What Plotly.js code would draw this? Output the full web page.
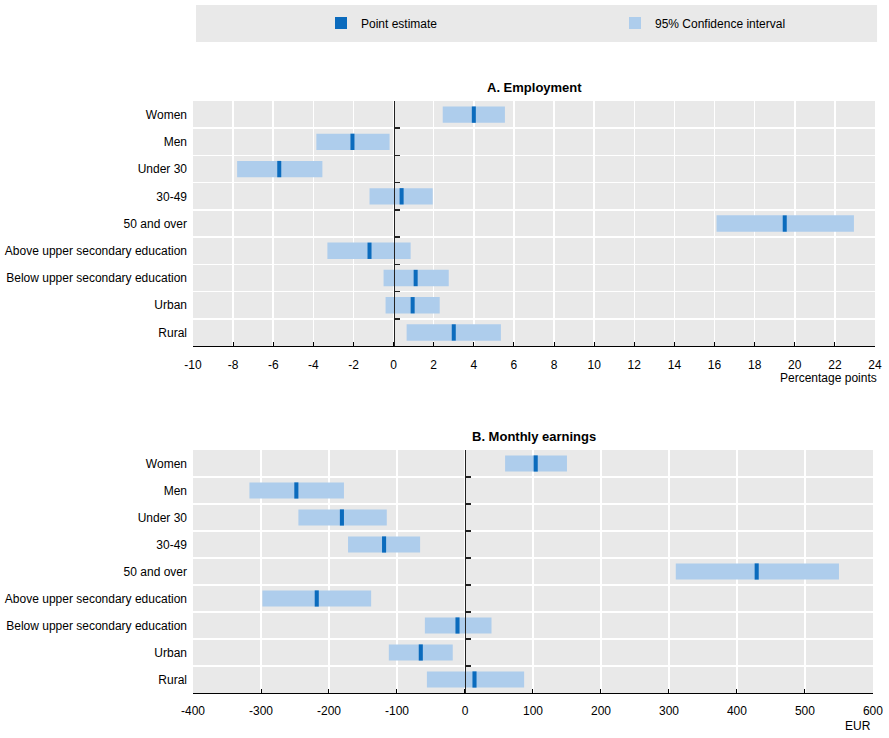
<!DOCTYPE html>
<html>
<head>
<meta charset="utf-8">
<script src="https://cdn.plot.ly/plotly-3.0.1.min.js"></script>
<style>html,body{margin:0;padding:0;background:#fff;}#chart{width:889px;height:738px;}</style>
</head>
<body>
<div id="chart"></div>
<script>
// ---- data ----
const categories = ["Women", "Men", "Under 30", "30-49", "50 and over",
  "Above upper secondary education", "Below upper secondary education", "Urban", "Rural"];

// Panel A: Employment (percentage points)
const empPoint = [4.0, -2.05, -5.7, 0.4, 19.5, -1.2, 1.1, 0.95, 3.0];
const empLow   = [2.45, -3.85, -7.8, -1.2, 16.1, -3.3, -0.5, -0.4, 0.65];
const empHigh  = [5.55, -0.2, -3.55, 1.95, 22.95, 0.85, 2.75, 2.3, 5.35];

// Panel B: Monthly earnings (EUR)
const earnPoint = [104, -248, -181, -119, 429, -218, -11, -65, 14];
const earnLow   = [59, -317, -245, -172, 310, -298, -59, -112, -56];
const earnHigh  = [150, -178, -115, -66, 550, -138, 39, -18, 87];

const empTicks = [-10,-8,-6,-4,-2,0,2,4,6,8,10,12,14,16,18,20,22,24];
const earnTicks = [-400,-300,-200,-100,0,100,200,300,400,500,600];

// ---- style ----
const FONT = "'Liberation Sans', Arial, sans-serif";
const ciColor = "#aecdec";
const ptColor = "#0b6bbd";
const empRange = [-10, 24];
const earnRange = [-400, 600];
const empHalf = 0.1;   // half-thickness of point marker in data units
const earnHalf = 3;

function ciTrace(low, high, xa, ya, show) {
  return {
    type: 'bar', orientation: 'h', y: categories,
    base: low, x: high.map((h, i) => h - low[i]),
    marker: {color: ciColor}, width: 0.6,
    name: '95% Confidence interval', legend: 'legend2', showlegend: show,
    xaxis: xa, yaxis: ya, hoverinfo: 'skip'
  };
}
function ptTrace(pt, half, xa, ya, show) {
  return {
    type: 'bar', orientation: 'h', y: categories,
    base: pt.map(v => v - half), x: pt.map(() => 2 * half),
    marker: {color: ptColor}, width: 0.6,
    name: 'Point estimate', legend: 'legend', showlegend: show,
    xaxis: xa, yaxis: ya, hoverinfo: 'skip'
  };
}
const data = [
  ciTrace(empLow, empHigh, 'x', 'y', true),
  ptTrace(empPoint, empHalf, 'x', 'y', true),
  ciTrace(earnLow, earnHigh, 'x2', 'y2', false),
  ptTrace(earnPoint, earnHalf, 'x2', 'y2', false)
];

const topDom = [0.586, 1];
const botDom = [0, 0.4105];
const xDom2 = [0, 0.997];
const boundaries = categories.map((_, i) => i - 0.5).concat([categories.length - 0.5]);

function xaxisDef(range, ticks, anchor, dom, standoff) {
  return {
    range: range, tickvals: ticks, ticktext: ticks.map(String),
    domain: dom, anchor: anchor,
    showgrid: true, gridcolor: '#ffffff', gridwidth: 1.5,
    zeroline: false,
    showline: true, linecolor: '#000000', linewidth: 1,
    ticks: 'inside', ticklen: 4, tickcolor: '#000000', tickwidth: 1,
    ticklabelstandoff: standoff,
    tickfont: {size: 12, color: '#000'}, fixedrange: true
  };
}
function yaxisDef(dom, anchor) {
  return {
    type: 'category', categoryorder: 'array', categoryarray: categories,
    tickvals: categories,
    range: [categories.length - 0.5, -0.5], domain: dom, anchor: anchor,
    tickson: 'boundaries', showgrid: true, gridcolor: '#ffffff', gridwidth: 1.5,
    ticks: '', showline: false, zeroline: false,
    tickfont: {size: 12, color: '#000'}, ticklabelstandoff: 5, fixedrange: true
  };
}
function zeroAxisDef(dom, over, xdom, range) {
  return {
    type: 'linear', tickmode: 'array', tickvals: boundaries,
    range: [categories.length - 0.5, -0.5], domain: dom, overlaying: over, anchor: 'free',
    position: xdom[0] + (0 - range[0]) / (range[1] - range[0]) * (xdom[1] - xdom[0]),
    ticks: 'inside', ticklen: 5, tickcolor: '#222', tickwidth: 1.5,
    showline: true, linecolor: '#222', linewidth: 1.5,
    showticklabels: false, showgrid: false, zeroline: false, fixedrange: true
  };
}

const legendCommon = {
  orientation: 'h', xref: 'container', yref: 'container',
  xanchor: 'left', yanchor: 'middle', y: 1 - 23 / 738,
  bgcolor: 'rgba(0,0,0,0)', font: {size: 12, family: FONT, color: '#000'}
};

const layout = {
  width: 889, height: 738,
  margin: {l: 193, r: 14, t: 101, b: 45},
  paper_bgcolor: '#ffffff', plot_bgcolor: '#e9e9e9',
  font: {family: FONT, size: 12, color: '#000'},
  barmode: 'overlay',
  showlegend: true,
  legend: Object.assign({}, legendCommon, {x: 321 / 889}),
  legend2: Object.assign({}, legendCommon, {x: 615 / 889}),
  xaxis: xaxisDef(empRange, empTicks, 'y', [0, 1], 8),
  yaxis: yaxisDef(topDom, 'x'),
  xaxis2: xaxisDef(earnRange, earnTicks, 'y2', xDom2, 7),
  yaxis2: yaxisDef(botDom, 'x2'),
  yaxis3: zeroAxisDef(topDom, 'y', [0, 1], empRange),
  yaxis4: zeroAxisDef(botDom, 'y2', xDom2, earnRange),
  shapes: [{
    type: 'rect', xref: 'paper', yref: 'paper',
    x0: 0.0044, x1: 1.003, y0: 1.0997, y1: 1.162,
    fillcolor: '#e9e9e9', line: {width: 0}, layer: 'below'
  }],
  annotations: [
    {text: '<b>A. Employment</b>', xref: 'paper', yref: 'paper', x: 0.5, y: 1, yanchor: 'bottom',
     yshift: 4, showarrow: false, font: {size: 13, family: FONT}},
    {text: '<b>B. Monthly earnings</b>', xref: 'paper', yref: 'paper', x: 0.5, y: botDom[1], yanchor: 'bottom',
     yshift: 4, showarrow: false, font: {size: 13, family: FONT}},
    {text: 'Percentage points', xref: 'paper', yref: 'paper', x: 1.006, xanchor: 'right', y: topDom[0],
     yanchor: 'top', yshift: -23, showarrow: false, font: {size: 12, family: FONT}},
    {text: 'EUR', xref: 'paper', yref: 'paper', x: xDom2[1], xanchor: 'right', y: 0,
     yanchor: 'top', yshift: -24, showarrow: false, font: {size: 12, family: FONT}}
  ]
};

// zero-line axes need a trace to be drawn
data.push({type: 'scatter', x: [null], y: [null], xaxis: 'x', yaxis: 'y3', showlegend: false, hoverinfo: 'skip'});
data.push({type: 'scatter', x: [null], y: [null], xaxis: 'x2', yaxis: 'y4', showlegend: false, hoverinfo: 'skip'});

Plotly.newPlot('chart', data, layout, {displayModeBar: false, staticPlot: true});
</script>
</body>
</html>
